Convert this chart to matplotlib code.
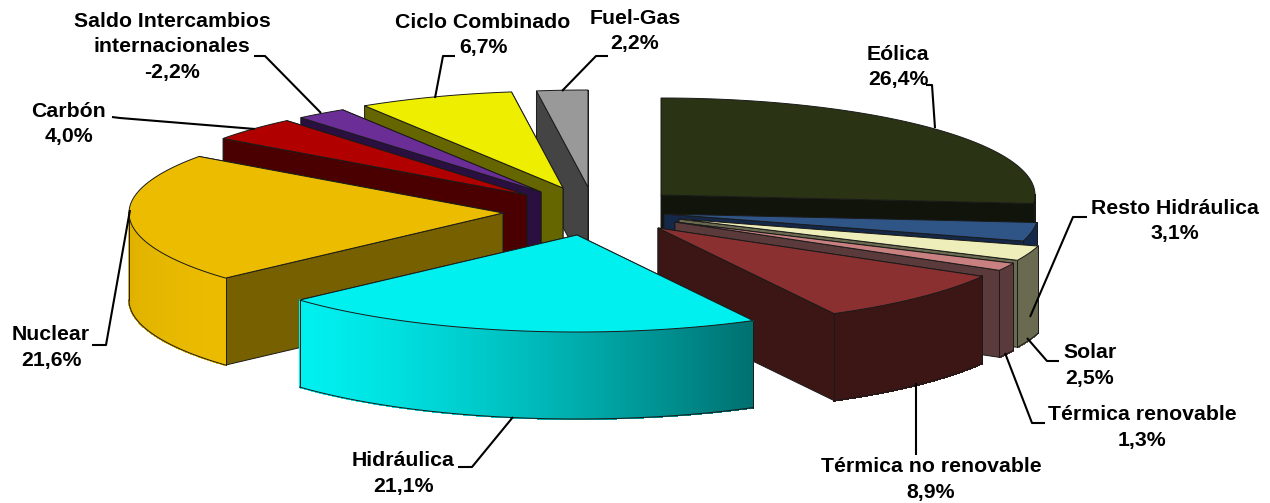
import numpy as np
import matplotlib
matplotlib.use("Agg")
import matplotlib.pyplot as plt
from matplotlib.patches import Polygon

# clockwise from 12 o'clock
names = ["Eólica", "Resto Hidráulica", "Solar", "Térmica renovable", "Térmica no renovable",
         "Hidráulica", "Nuclear", "Carbón", "Saldo Intercambios\ninternacionales",
         "Ciclo Combinado", "Fuel-Gas"]
shares = [26.4, 3.1, 2.5, 1.3, 8.9, 21.1, 21.6, 4.0, 2.2, 6.7, 2.2]
# the saldo slice is drawn with its size but labelled as a negative share
label_values = ["26,4%", "3,1%", "2,5%", "1,3%", "8,9%", "21,1%", "21,6%", "4,0%", "-2,2%", "6,7%", "2,2%"]

top_colors = ["#2a3314", "#2f5587", "#eeeebb", "#c88080", "#8a3030", "#00f0f0",
              "#ecbc00", "#b00000", "#6b2e96", "#eeee00", "#999999"]
wall_colors = ["#10140a", "#14294a", "#6a6a50", "#5a3a3a", "#3c1614", "#007070",
               "#776000", "#4a0000", "#2a1040", "#666600", "#444444"]

# exploded centre of each slice, in pixels
centers = [(661, 195), (664, 214), (679, 219), (675, 222), (658, 228), (577, 235),
           (503, 213), (527, 195), (541, 192), (563, 188), (588, 187)]
RX = 374
RY = 97
DEPTH = 87

# painter's order, back to front
draw_order = [10, 0, 1, 2, 3, 4, 9, 8, 7, 6, 5]

label_pos = {
    "Eólica": (898, 54), "Resto Hidráulica": (1175, 208), "Solar": (1090, 353),
    "Térmica renovable": (1142, 415), "Térmica no renovable": (931, 467),
    "Hidráulica": (403, 461), "Nuclear": (51, 335), "Carbón": (69, 111),
    "Saldo Intercambios\ninternacionales": (172, 21), "Ciclo Combinado": (483, 22),
    "Fuel-Gas": (635, 18),
}
leaders = [
    [(926, 85), (932, 85), (935, 128)],
    [(1087, 217), (1073, 217), (1030, 317)],
    [(1059, 361), (1047, 361), (1027, 338)],
    [(1045, 423), (1032, 423), (1005, 353)],
    [(916, 383), (916, 455)],
    [(458, 467), (472, 467), (513, 417)],
    [(92, 345), (106, 345), (130, 210)],
    [(112, 117), (120, 118), (255, 129)],
    [(254, 56), (265, 56), (321, 113)],
    [(455, 56), (443, 56), (435, 98)],
    [(608, 56), (596, 56), (562, 91)],
]


def rim_point(center, deg, depth=0):
    t = np.radians(deg)
    return center[0] + RX * np.sin(t), center[1] - RY * np.cos(t) + depth


def shade(color, wall, deg):
    # lighting of the curved wall: bright on the left side, wall colour on the right
    top = np.array(matplotlib.colors.to_rgb(color))
    low = np.array(matplotlib.colors.to_rgb(wall))
    if deg > 228:
        return top * (1 - 0.06 * min((deg - 228) / 42, 1))
    if deg < 152:
        return low
    f = (np.sin(np.radians(deg)) - np.sin(np.radians(228))) / (np.sin(np.radians(152)) - np.sin(np.radians(228)))
    f = f ** 1.3
    return top * (1 - f) + low * f


plt.rcParams["font.family"] = ["Liberation Sans", "DejaVu Sans"]
fig = plt.figure(figsize=(12.7, 5.03), dpi=100)
ax = fig.add_axes([0, 0, 1, 1])
ax.set_xlim(0, 1270)
ax.set_ylim(503, 0)
ax.axis("off")

edges = np.concatenate([[0], np.cumsum(shares)]) / sum(shares) * 360
EDGE = "#1a1a1a"

for z, i in enumerate(draw_order, start=2):
    c = centers[i]
    a1, a2 = edges[i], edges[i + 1]

    # flat walls, the one nearer the viewer goes last
    for a in sorted([a1, a2], key=lambda d: -np.cos(np.radians(d))):
        quad = [c, rim_point(c, a), rim_point(c, a, DEPTH), (c[0], c[1] + DEPTH)]
        ax.add_patch(Polygon(quad, closed=True, fc=wall_colors[i], ec=EDGE, lw=0.7, zorder=z))

    # curved wall, only the part facing the viewer
    f1, f2 = max(a1, 90), min(a2, 270)
    if f2 > f1:
        angles = np.linspace(f1, f2, max(int(f2 - f1) * 3, 4) + 1)
        for a, b in zip(angles[:-1], angles[1:]):
            col = shade(top_colors[i], wall_colors[i], (a + b) / 2)
            quad = [rim_point(c, a), rim_point(c, b), rim_point(c, b, DEPTH), rim_point(c, a, DEPTH)]
            ax.add_patch(Polygon(quad, closed=True, fc=col, ec=col, lw=0.8, antialiased=False, zorder=z))
        xs_b, ys_b = rim_point(c, angles, DEPTH)
        ax.plot(xs_b, ys_b, color=EDGE, lw=0.7, zorder=z)
        for a in (f1, f2):
            p = rim_point(c, a)
            q = rim_point(c, a, DEPTH)
            ax.plot([p[0], q[0]], [p[1], q[1]], color=EDGE, lw=0.7, zorder=z)

    # top face
    arc = np.linspace(a1, a2, 120)
    xs_t, ys_t = rim_point(c, arc)
    outline = [c] + list(zip(xs_t, ys_t))
    ax.add_patch(Polygon(outline, closed=True, fc=top_colors[i], ec=EDGE, lw=0.7, zorder=z))

for line in leaders:
    xs = [p[0] for p in line]
    ys = [p[1] for p in line]
    ax.plot(xs, ys, color="black", lw=1.5, zorder=30, solid_capstyle="butt")

LINE_STEP = 25.5
for name, val in zip(names, label_values):
    x, y = label_pos[name]
    for k, row in enumerate(name.split("\n") + [val]):
        ax.text(x, y + k * LINE_STEP, row, ha="center", va="center", fontsize=15.3,
                fontweight="bold", color="black", zorder=31)

fig.savefig("out.png", dpi=100, facecolor="white")
